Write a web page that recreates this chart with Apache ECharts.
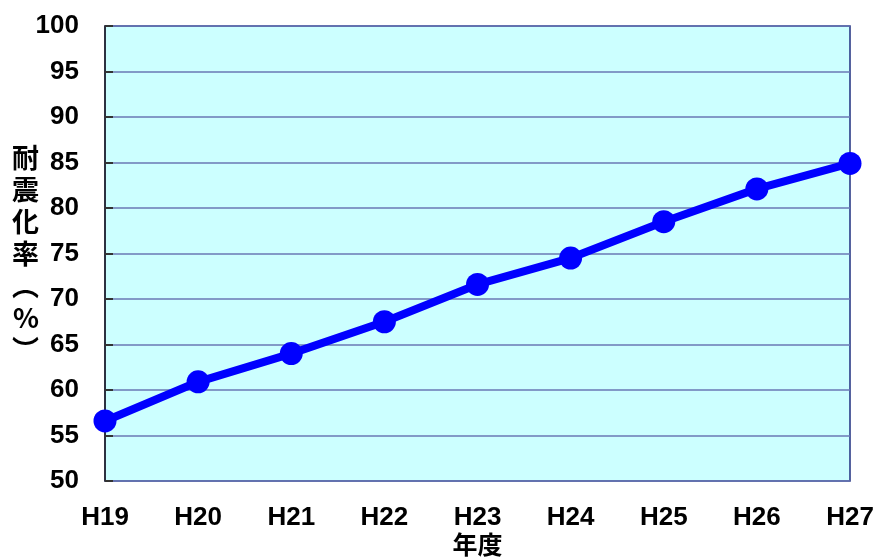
<!DOCTYPE html>
<html>
<head>
<meta charset="utf-8">
<script src="https://cdn.jsdelivr.net/npm/echarts@6/dist/echarts.min.js"></script>
<style>
  html, body { margin: 0; padding: 0; background: #fff; }
  #chart { width: 879px; height: 560px; }
</style>
</head>
<body>
<div id="chart"></div>
<script>
// 年度ごとの耐震化率
const years = ['H19', 'H20', 'H21', 'H22', 'H23', 'H24', 'H25', 'H26', 'H27']
const rates = [56.6, 60.9, 64.0, 67.5, 71.6, 74.5, 78.5, 82.1, 84.9]
const yTicks = [50, 100, 5]  // min, max, interval

const xName = '年度'
const yName = '耐震化率︵%︶'

const font = '"Liberation Sans", Arial, "Noto Sans CJK JP", sans-serif'
const cjkFont = '"Noto Sans CJK JP", sans-serif'

let chart = echarts.init(document.getElementById('chart'))
chart.setOption({
  animation: false,
  grid: {
    left: 105, right: 29, top: 26, bottom: 79,
    outerBoundsMode: 'none',
    show: true,
    backgroundColor: '#CCFFFF',
    borderColor: '#1F2F80',
    borderWidth: 1.5
  },
  xAxis: {
    type: 'category',
    data: years,
    boundaryGap: false,
    name: xName,
    nameLocation: 'middle',
    nameGap: 51,
    nameMoveOverlap: false,
    nameTextStyle: { fontFamily: cjkFont, fontWeight: 'bold', fontSize: 25, color: '#000' },
    axisLine: { show: false },
    axisTick: { show: false },
    axisLabel: { fontFamily: font, fontWeight: 'bold', fontSize: 26, color: '#000', margin: 24 },
    splitLine: { show: false }
  },
  yAxis: {
    type: 'value',
    min: yTicks[0],
    max: yTicks[1],
    interval: yTicks[2],
    name: yName.split('').join('\n'),
    nameLocation: 'middle',
    nameRotate: 0,
    nameGap: 66,
    nameMoveOverlap: false,
    nameTextStyle: { fontFamily: cjkFont, fontWeight: 'bold', fontSize: 27, lineHeight: 32, color: '#000' },
    axisLine: { show: true, lineStyle: { color: '#222', width: 1.5 } },
    axisTick: { show: true, inside: true, length: 8, lineStyle: { color: '#333', width: 2 } },
    axisLabel: { fontFamily: font, fontWeight: 'bold', fontSize: 26, color: '#000', margin: 26 },
    splitLine: { show: true, lineStyle: { color: '#6A78B4', width: 1.5 } }
  },
  series: [{
    type: 'line',
    data: rates,
    symbol: 'circle',
    symbolSize: 23,
    lineStyle: { color: '#0000FF', width: 8 },
    itemStyle: { color: '#0000FF' },
    z: 5
  }]
})
</script>
</body>
</html>
